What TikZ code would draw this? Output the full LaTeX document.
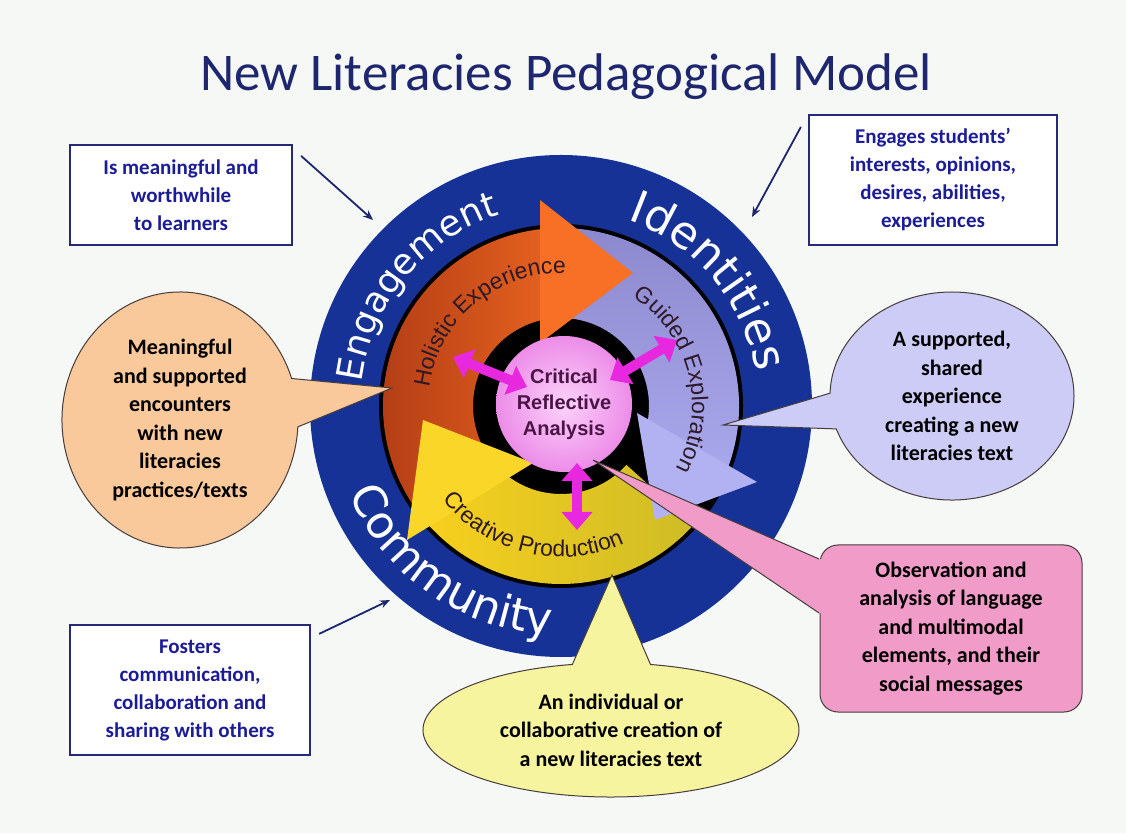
\documentclass[tikz,border=0pt]{standalone}
\usepackage{fontspec}
\setmainfont{Carlito}
\newfontfamily\ringfont{DejaVu Sans}
\newfontfamily\arialfont{Liberation Sans}
\usetikzlibrary{shapes.geometric,shapes.callouts,arrows.meta,decorations.text,calc}
\definecolor{bgc}{RGB}{246,248,246}
\definecolor{ringblue}{RGB}{22,50,150}
\definecolor{navy}{RGB}{30,38,110}
\definecolor{boxtext}{RGB}{28,28,150}
\definecolor{boxline}{RGB}{40,40,120}
\definecolor{ordark}{RGB}{180,62,22}
\definecolor{orbody}{RGB}{232,100,32}
\definecolor{orhead}{RGB}{247,112,38}
\definecolor{lavdark}{RGB}{140,136,205}
\definecolor{lavbody}{RGB}{170,168,236}
\definecolor{lavhead}{RGB}{178,178,242}
\definecolor{yelbody}{RGB}{248,208,30}
\definecolor{yelolive}{RGB}{205,188,38}
\definecolor{yelhead}{RGB}{250,214,40}
\definecolor{pinkc}{RGB}{236,140,232}
\definecolor{pinkin}{RGB}{252,210,250}
\definecolor{magarrow}{RGB}{232,40,222}
\definecolor{centertext}{RGB}{75,20,70}
\definecolor{arctext}{RGB}{45,25,40}
\definecolor{peach}{RGB}{249,200,155}
\definecolor{lavcall}{RGB}{204,204,246}
\definecolor{yelcall}{RGB}{247,244,160}
\definecolor{pinkbox}{RGB}{240,155,200}
\definecolor{outl}{RGB}{70,60,60}
\newcommand{\ringA}{\fontsize{36}{36}\selectfont\ringfont\color{white}}
\newcommand{\ringB}{\fontsize{45}{45}\selectfont\ringfont\color{white}}
\newcommand{\arcA}{\fontsize{23}{23}\selectfont\arialfont\color{arctext}}
\begin{document}
\begin{tikzpicture}[x=1pt,y=1pt,
  infobox/.style={draw=boxline, line width=2.2pt, fill=white, text=boxtext,
    font=\fontsize{21}{28}\selectfont\bfseries, align=center, inner sep=0pt},
  ptr/.style={draw=navy, line width=1.8pt, -{Stealth[length=10pt,width=8pt]}},
  callfont/.style={font=\fontsize{22}{28.5}\selectfont\bfseries, align=center, text=black, inner sep=0pt},
  magarr/.style={draw=magarrow, line width=10pt,
    {Triangle[width=30pt,length=18pt]}-{Triangle[width=30pt,length=18pt]}}]
\fill[bgc] (0,0) rectangle (1126,833);
\useasboundingbox (0,0) rectangle (1126,833);

% title
\node[font=\fontsize{53}{53}\selectfont, text=navy] (title) at (566,756) {New Literacies Pedagogical Model};

% ring
\coordinate (C) at (561,427);
\fill[ringblue] (C) circle[radius=251];
\fill[black] (C) circle[radius=182];
\begin{scope}[shift={(C)}]
\begin{scope}
\clip (96:178) arc[start angle=96,end angle=225,radius=178] -- (225:88) arc[start angle=225,end angle=96,radius=88] -- cycle;
\shade[left color=ordark, right color=orbody] (-180,-180) rectangle (0,180);
\end{scope}
\begin{scope}
\clip (-20:178) arc[start angle=-20,end angle=96,radius=178] -- (96:88) arc[start angle=96,end angle=-20,radius=88] -- cycle;
\shade[top color=lavdark, bottom color=lavbody] (-20,-70) rectangle (180,180);
\end{scope}
\begin{scope}
\clip (221:178) arc[start angle=221,end angle=318,radius=178] -- (318:88) arc[start angle=318,end angle=221,radius=88] -- cycle;
\shade[left color=yelbody, right color=yelolive] (-140,-180) rectangle (140,0);
\end{scope}
\end{scope}
% arrow heads
\fill[orhead] (540,633) -- (633,560) -- (540,490) -- cycle;
\fill[lavhead] (637,420) -- (757,351) -- (655,313) -- cycle;
\fill[yelhead] (407,293) -- (423,413) -- (533,370) -- cycle;

% centre
\node[circle, minimum size=136pt, inner sep=0pt, shade, inner color=pinkin, outer color=pinkc,
  font=\fontsize{20}{26}\selectfont\arialfont\bfseries, text=centertext, align=center] (crit) at (564,429)
  {Critical\\Reflective\\Analysis};

% ring and arrow texts
\begin{scope}[shift={(C)}]
\path[decorate, decoration={text along path, text={|\ringA|Engagement}, text align=center}]
  (190:201) arc[start angle=190,end angle=91,radius=201];
\path[decorate, decoration={text along path, text={|\ringB|Identities}, text align=center}]
  (90:198) arc[start angle=90,end angle=-10,radius=198];
\path[decorate, decoration={text along path, text={|\ringB|Community}, text align=center}]
  (170:229) arc[start angle=170,end angle=300,radius=229];
\path[decorate, decoration={text along path, text={|\arcA|Holistic Experience}, text align=center}]
  (180:133) arc[start angle=180,end angle=80,radius=133];
\path[decorate, decoration={text along path, text={|\arcA|Guided Exploration}, text align=center}]
  (64:131) arc[start angle=64,end angle=-36,radius=131];
\path[decorate, decoration={text along path, text={|\arcA|Creative Production}, text align=center}]
  (203:151) arc[start angle=203,end angle=310,radius=151];
\end{scope}

% magenta double arrows
\coordinate (m1a) at (453,476); \coordinate (m1b) at (527,446);
\coordinate (m2a) at (677,493); \coordinate (m2b) at (610,453);
\coordinate (m3a) at (577,370); \coordinate (m3b) at (577,303);
\draw[magarr] (m1a) -- (m1b);
\draw[magarr] (m2a) -- (m2b);
\draw[magarr] (m3a) -- (m3b);

% callouts
\node[ellipse callout, callout absolute pointer={(392,445)}, callout pointer arc=22,
  minimum width=236pt, minimum height=256pt, fill=peach, draw=outl, line width=1pt, callfont] (peachc) at (180,413)
  {Meaningful\\and supported\\encounters\\with new\\literacies\\practices/texts};
\node[ellipse callout, callout absolute pointer={(723,408)}, callout pointer arc=20,
  minimum width=244pt, minimum height=208pt, fill=lavcall, draw=outl, line width=1pt, callfont] (lavc) at (952,437)
  {A supported,\\shared\\experience\\creating a new\\literacies text};
\node[ellipse callout, callout absolute pointer={(612,258)}, callout pointer arc=24,
  minimum width=376pt, minimum height=134pt, fill=yelcall, draw=outl, line width=1pt, callfont] (yelc) at (611,103)
  {An individual or\\collaborative creation of\\a new literacies text};
\node[rectangle, rounded corners=18pt, minimum width=262pt, minimum height=167pt, fill=pinkbox,
  draw=outl, line width=1pt, callfont] (pinkb) at (951,204.5)
  {Observation and\\analysis of language\\and multimodal\\elements, and their\\social messages};
\coordinate (tipP) at (593,373);
\fill[pinkbox] (tipP) -- (819,274) -- (826,274) -- (826,220) -- (819,220) -- cycle;
\draw[outl, line width=1pt] (819,274) -- (tipP) -- (819,220);

% boxes
\node[infobox, minimum width=222pt, minimum height=100pt] (b1) at (181,638)
  {Is meaningful and\\worthwhile\\to learners};
\node[infobox, minimum width=248pt, minimum height=130pt] (b2) at (933,653)
  {Engages students’\\interests, opinions,\\desires, abilities,\\experiences};
\node[infobox, minimum width=240pt, minimum height=130pt] (b3) at (190,143)
  {Fosters\\communication,\\collaboration and\\sharing with others};
\coordinate (t1) at (373,613);
\coordinate (t2) at (752,616);
\coordinate (t3) at (390,233);
\draw[ptr] ([shift={(8,-12)}]b1.north east) -- (t1);
\draw[ptr] ([shift={(-7,-13)}]b2.north west) -- (t2);
\draw[ptr] ([shift={(8,-10)}]b3.north east) -- (t3);
\end{tikzpicture}
\end{document}
